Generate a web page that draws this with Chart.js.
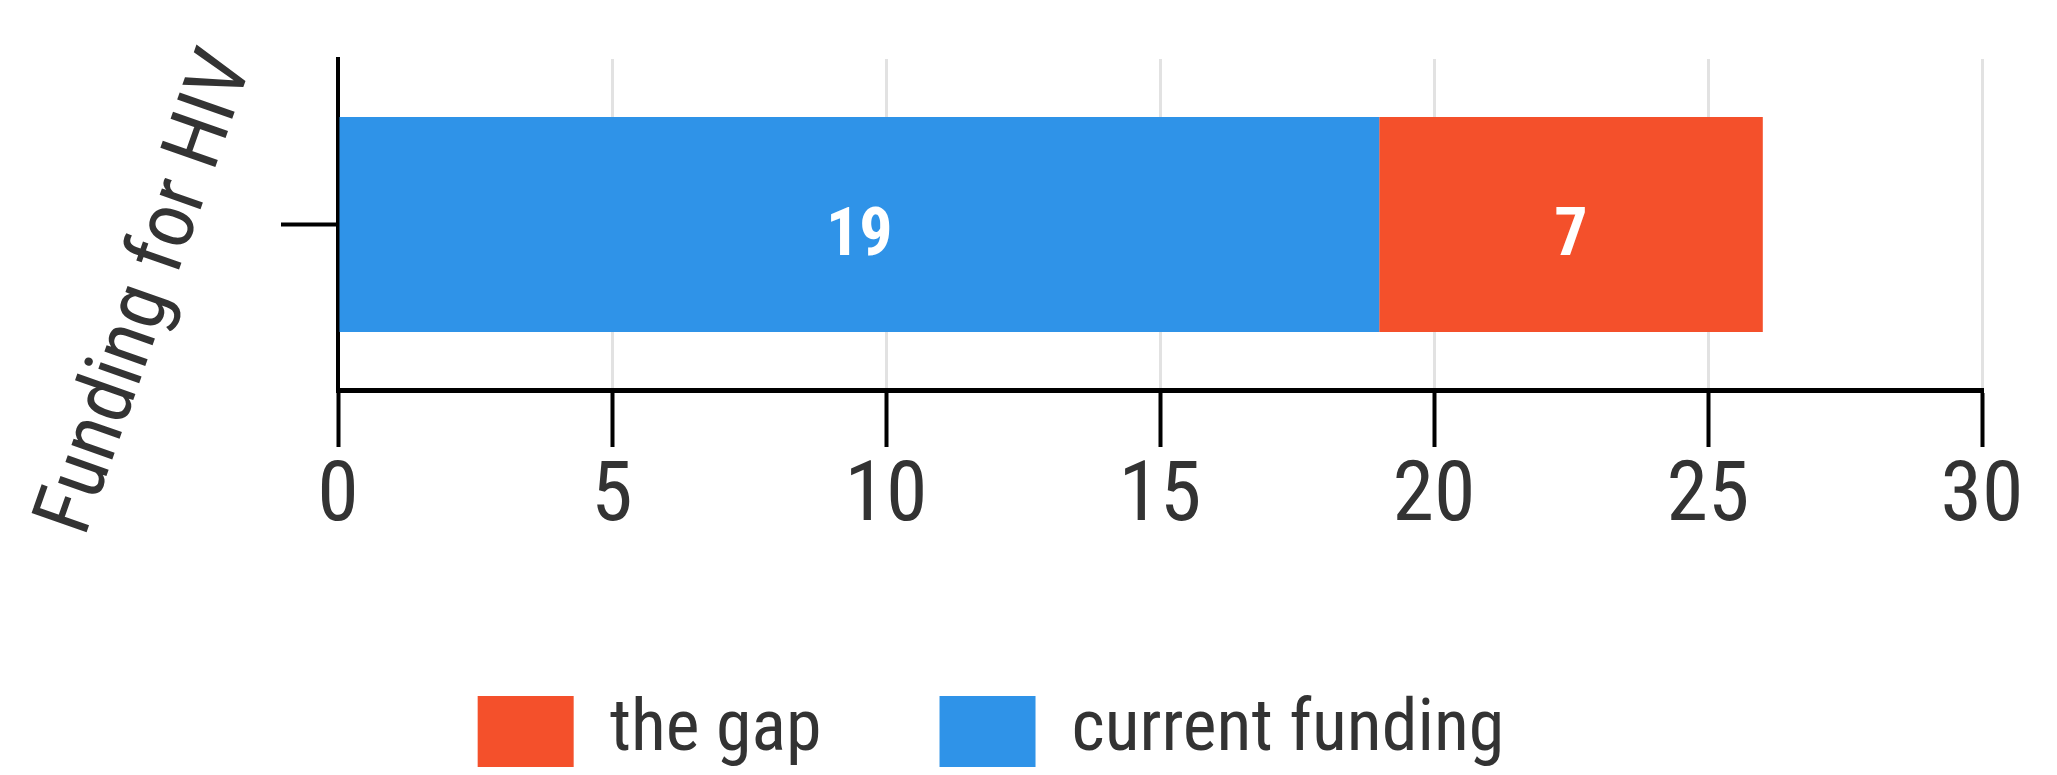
<!DOCTYPE html>
<html>
<head>
<meta charset="utf-8">
<title>Funding for HIV</title>
<script src="https://cdn.jsdelivr.net/npm/chart.js@4/dist/chart.umd.min.js"></script>
<style>
  html, body { margin: 0; padding: 0; background: #ffffff; overflow: hidden; }
  #wrap { position: relative; width: 2057px; height: 775px; }
</style>
</head>
<body>
<div id="wrap"><canvas id="chart"></canvas></div>
<script>
// Category and series values
const categories = ['Funding for HIV'];
const currentFunding = [19];
const theGap = [7];
const seriesNames = ['current funding', 'the gap'];
const seriesColors = ['#2f93e8', '#f4502b'];

// Value axis range
const axisMin = 0;
const axisMax = 30;
const axisStep = 5;

const FONT = "'Liberation Sans Narrow', 'Roboto Condensed', 'DejaVu Sans Condensed', Roboto, sans-serif";
const TEXT = '#333333';

// Writes each segment's value in the middle of its bar
const barValues = {
  id: 'barValues',
  afterDatasetsDraw(chart) {
    const ctx = chart.ctx;
    ctx.save();
    ctx.font = `bold 66px ${FONT}`;
    ctx.fillStyle = '#ffffff';
    ctx.textAlign = 'center';
    ctx.textBaseline = 'middle';
    chart.data.datasets.forEach((ds, di) => {
      const meta = chart.getDatasetMeta(di);
      meta.data.forEach((bar, i) => {
        const v = ds.data[i];
        const cx = (bar.x + bar.base) / 2;
        ctx.fillText(String(v), cx, bar.y + 14);
      });
    });
    ctx.restore();
  }
};

// Slanted category label beside the vertical axis
const categoryLabel = {
  id: 'categoryLabel',
  afterDraw(chart) {
    const y = chart.scales.y;
    const ctx = chart.ctx;
    ctx.save();
    const py = y.getPixelForValue(0);
    ctx.translate(149, py + 69);
    ctx.rotate(-70.6 * Math.PI / 180);
    ctx.font = `82px ${FONT}`;
    ctx.fillStyle = TEXT;
    ctx.textAlign = 'center';
    ctx.textBaseline = 'middle';
    ctx.fillText(chart.data.labels[0], 0, 0);
    ctx.restore();
  }
};

new Chart(document.getElementById('chart'), {
  type: 'bar',
  data: {
    labels: categories,
    datasets: [
      { label: seriesNames[0], data: currentFunding, backgroundColor: seriesColors[0], borderWidth: 0,
        categoryPercentage: 1, barPercentage: 0.65 },
      { label: seriesNames[1], data: theGap, backgroundColor: seriesColors[1], borderWidth: 0,
        categoryPercentage: 1, barPercentage: 0.65 }
    ]
  },
  options: {
    indexAxis: 'y',
    responsive: true,
    maintainAspectRatio: false,
    animation: false,
    layout: { padding: { left: 0, right: 75, top: 59, bottom: -2.5 } },
    plugins: {
      tooltip: { enabled: false },
      legend: {
        position: 'bottom',
        labels: {
          boxWidth: 96,
          boxHeight: 71,
          padding: 118,
          color: TEXT,
          font: { family: FONT, size: 72 },
          sort: (a, b) => b.datasetIndex - a.datasetIndex
        }
      }
    },
    scales: {
      x: {
        stacked: true,
        min: axisMin,
        max: axisMax,
        ticks: {
          stepSize: axisStep,
          color: TEXT,
          padding: 10,
          font: { family: FONT, size: 84, lineHeight: 1 }
        },
        grid: {
          color: '#e2e2e2',
          lineWidth: 3,
          tickColor: '#000000',
          tickWidth: 4,
          tickLength: 57
        },
        border: { display: true, color: '#000000', width: 5 },
        afterFit(scale) { scale.height = 187.5; }
      },
      y: {
        stacked: true,
        offset: true,
        ticks: { display: false },
        grid: {
          display: true,
          offset: false,
          drawOnChartArea: false,
          tickColor: '#000000',
          tickWidth: 4,
          tickLength: 57
        },
        border: { display: true, color: '#000000', width: 4 },
        afterFit(scale) { scale.width = 338; }
      }
    }
  },
  plugins: [barValues, categoryLabel]
});
</script>
</body>
</html>
